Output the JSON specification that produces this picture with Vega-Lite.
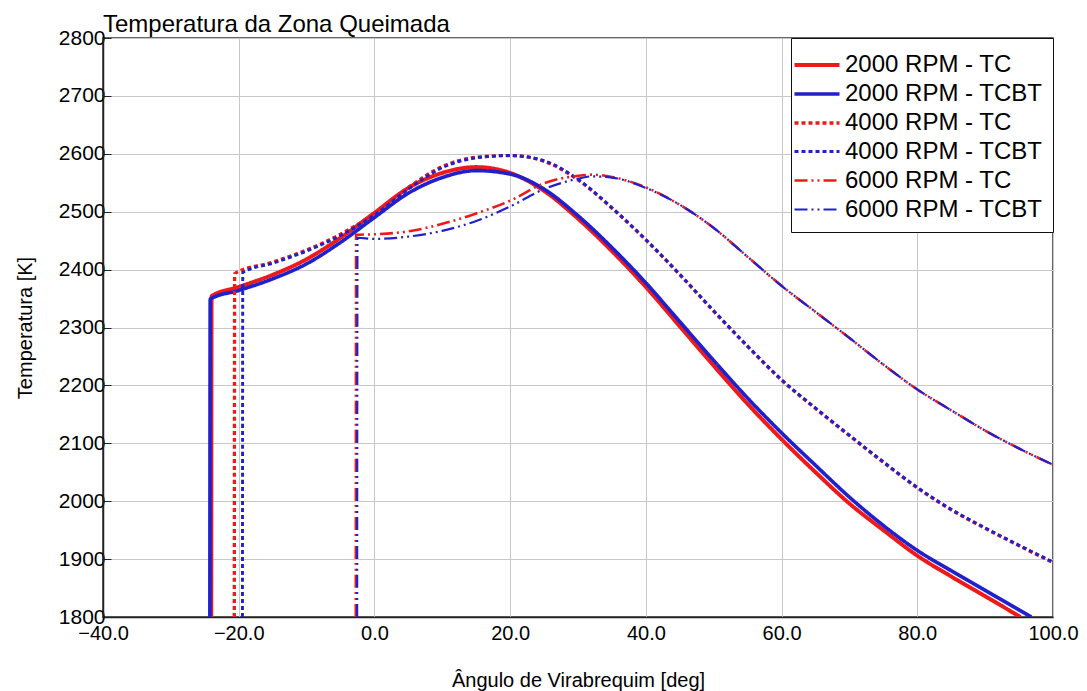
{
  "$schema": "https://vega.github.io/schema/vega-lite/v6.json",
  "width": 950,
  "height": 579,
  "autosize": {"type": "none"},
  "padding": {"left": 103, "top": 38, "right": 34, "bottom": 74},
  "background": "white",
  "title": {"text": "Temperatura da Zona Queimada", "anchor": "start", "frame": "group", "fontSize": 24, "fontWeight": "normal", "font": "Liberation Sans", "color": "black", "offset": -29, "baseline": "alphabetic"},
  "config": {
    "view": {"stroke": "#333333", "strokeWidth": 1.5},
    "font": "Liberation Sans",
    "axis": {"gridColor": "#c8c8c8", "gridWidth": 1, "domainColor": "#222222", "domainWidth": 1.5, "labelColor": "black", "titleColor": "black", "labelFont": "Liberation Sans", "titleFont": "Liberation Sans", "titleFontWeight": "normal", "labelFontSize": 20, "titleFontSize": 20}
  },
  "data": {"values": [
    {"s":"2000 RPM - TC","i":0,"x":-24.05,"T":1800},{"s":"2000 RPM - TC","i":1,"x":-24,"T":2354},{"s":"2000 RPM - TC","i":2,"x":-20,"T":2370},{"s":"2000 RPM - TC","i":3,"x":-15,"T":2391},{"s":"2000 RPM - TC","i":4,"x":-10,"T":2418},{"s":"2000 RPM - TC","i":5,"x":-5,"T":2455},{"s":"2000 RPM - TC","i":6,"x":0,"T":2498},{"s":"2000 RPM - TC","i":7,"x":5,"T":2541},{"s":"2000 RPM - TC","i":8,"x":10,"T":2567},{"s":"2000 RPM - TC","i":9,"x":15,"T":2577},{"s":"2000 RPM - TC","i":10,"x":20,"T":2567},{"s":"2000 RPM - TC","i":11,"x":25,"T":2536},{"s":"2000 RPM - TC","i":12,"x":30,"T":2488},{"s":"2000 RPM - TC","i":13,"x":35,"T":2432},{"s":"2000 RPM - TC","i":14,"x":40,"T":2370},{"s":"2000 RPM - TC","i":15,"x":45,"T":2302},{"s":"2000 RPM - TC","i":16,"x":50,"T":2234},{"s":"2000 RPM - TC","i":17,"x":55,"T":2168},{"s":"2000 RPM - TC","i":18,"x":60,"T":2107},{"s":"2000 RPM - TC","i":19,"x":65,"T":2050},{"s":"2000 RPM - TC","i":20,"x":70,"T":1996},{"s":"2000 RPM - TC","i":21,"x":75,"T":1950},{"s":"2000 RPM - TC","i":22,"x":80,"T":1906},{"s":"2000 RPM - TC","i":23,"x":85,"T":1870},{"s":"2000 RPM - TC","i":24,"x":90,"T":1836},{"s":"2000 RPM - TC","i":25,"x":95.2,"T":1800},
    {"s":"2000 RPM - TCBT","i":0,"x":-24.25,"T":1800},{"s":"2000 RPM - TCBT","i":1,"x":-24.2,"T":2349},{"s":"2000 RPM - TCBT","i":2,"x":-20,"T":2364},{"s":"2000 RPM - TCBT","i":3,"x":-15,"T":2384},{"s":"2000 RPM - TCBT","i":4,"x":-10,"T":2410},{"s":"2000 RPM - TCBT","i":5,"x":-5,"T":2447},{"s":"2000 RPM - TCBT","i":6,"x":0,"T":2490},{"s":"2000 RPM - TCBT","i":7,"x":5,"T":2532},{"s":"2000 RPM - TCBT","i":8,"x":10,"T":2559},{"s":"2000 RPM - TCBT","i":9,"x":15,"T":2571},{"s":"2000 RPM - TCBT","i":10,"x":20,"T":2565},{"s":"2000 RPM - TCBT","i":11,"x":25,"T":2539},{"s":"2000 RPM - TCBT","i":12,"x":30,"T":2493},{"s":"2000 RPM - TCBT","i":13,"x":35,"T":2438},{"s":"2000 RPM - TCBT","i":14,"x":40,"T":2377},{"s":"2000 RPM - TCBT","i":15,"x":45,"T":2310},{"s":"2000 RPM - TCBT","i":16,"x":50,"T":2243},{"s":"2000 RPM - TCBT","i":17,"x":55,"T":2178},{"s":"2000 RPM - TCBT","i":18,"x":60,"T":2118},{"s":"2000 RPM - TCBT","i":19,"x":65,"T":2062},{"s":"2000 RPM - TCBT","i":20,"x":70,"T":2007},{"s":"2000 RPM - TCBT","i":21,"x":75,"T":1958},{"s":"2000 RPM - TCBT","i":22,"x":80,"T":1915},{"s":"2000 RPM - TCBT","i":23,"x":85,"T":1880},{"s":"2000 RPM - TCBT","i":24,"x":90,"T":1846},{"s":"2000 RPM - TCBT","i":25,"x":96.8,"T":1800},
    {"s":"4000 RPM - TC","i":0,"x":-20.65,"T":1800},{"s":"4000 RPM - TC","i":1,"x":-20.6,"T":2393},{"s":"4000 RPM - TC","i":2,"x":-15,"T":2413},{"s":"4000 RPM - TC","i":3,"x":-10,"T":2434},{"s":"4000 RPM - TC","i":4,"x":-5,"T":2461},{"s":"4000 RPM - TC","i":5,"x":0,"T":2497},{"s":"4000 RPM - TC","i":6,"x":5,"T":2542},{"s":"4000 RPM - TC","i":7,"x":10,"T":2578},{"s":"4000 RPM - TC","i":8,"x":15,"T":2594},{"s":"4000 RPM - TC","i":9,"x":20,"T":2597},{"s":"4000 RPM - TC","i":10,"x":25,"T":2587},{"s":"4000 RPM - TC","i":11,"x":30,"T":2555},{"s":"4000 RPM - TC","i":12,"x":35,"T":2506},{"s":"4000 RPM - TC","i":13,"x":40,"T":2451},{"s":"4000 RPM - TC","i":14,"x":45,"T":2391},{"s":"4000 RPM - TC","i":15,"x":50,"T":2328},{"s":"4000 RPM - TC","i":16,"x":55,"T":2267},{"s":"4000 RPM - TC","i":17,"x":60,"T":2209},{"s":"4000 RPM - TC","i":18,"x":65,"T":2160},{"s":"4000 RPM - TC","i":19,"x":70,"T":2113},{"s":"4000 RPM - TC","i":20,"x":75,"T":2067},{"s":"4000 RPM - TC","i":21,"x":80,"T":2023},{"s":"4000 RPM - TC","i":22,"x":85,"T":1985},{"s":"4000 RPM - TC","i":23,"x":90,"T":1953},{"s":"4000 RPM - TC","i":24,"x":95,"T":1923},{"s":"4000 RPM - TC","i":25,"x":100,"T":1894},
    {"s":"4000 RPM - TCBT","i":0,"x":-19.45,"T":1800},{"s":"4000 RPM - TCBT","i":1,"x":-19.4,"T":2395},{"s":"4000 RPM - TCBT","i":2,"x":-15,"T":2411},{"s":"4000 RPM - TCBT","i":3,"x":-10,"T":2432},{"s":"4000 RPM - TCBT","i":4,"x":-5,"T":2459},{"s":"4000 RPM - TCBT","i":5,"x":0,"T":2494},{"s":"4000 RPM - TCBT","i":6,"x":5,"T":2539},{"s":"4000 RPM - TCBT","i":7,"x":10,"T":2576},{"s":"4000 RPM - TCBT","i":8,"x":15,"T":2593},{"s":"4000 RPM - TCBT","i":9,"x":20,"T":2597},{"s":"4000 RPM - TCBT","i":10,"x":25,"T":2588},{"s":"4000 RPM - TCBT","i":11,"x":30,"T":2556},{"s":"4000 RPM - TCBT","i":12,"x":35,"T":2507},{"s":"4000 RPM - TCBT","i":13,"x":40,"T":2452},{"s":"4000 RPM - TCBT","i":14,"x":45,"T":2392},{"s":"4000 RPM - TCBT","i":15,"x":50,"T":2329},{"s":"4000 RPM - TCBT","i":16,"x":55,"T":2268},{"s":"4000 RPM - TCBT","i":17,"x":60,"T":2210},{"s":"4000 RPM - TCBT","i":18,"x":65,"T":2161},{"s":"4000 RPM - TCBT","i":19,"x":70,"T":2114},{"s":"4000 RPM - TCBT","i":20,"x":75,"T":2068},{"s":"4000 RPM - TCBT","i":21,"x":80,"T":2024},{"s":"4000 RPM - TCBT","i":22,"x":85,"T":1986},{"s":"4000 RPM - TCBT","i":23,"x":90,"T":1954},{"s":"4000 RPM - TCBT","i":24,"x":95,"T":1924},{"s":"4000 RPM - TCBT","i":25,"x":100,"T":1895},
    {"s":"6000 RPM - TC","i":0,"x":-2.75,"T":1800},{"s":"6000 RPM - TC","i":1,"x":-2.7,"T":2460},{"s":"6000 RPM - TC","i":2,"x":0,"T":2461},{"s":"6000 RPM - TC","i":3,"x":5,"T":2466},{"s":"6000 RPM - TC","i":4,"x":10,"T":2479},{"s":"6000 RPM - TC","i":5,"x":15,"T":2497},{"s":"6000 RPM - TC","i":6,"x":20,"T":2519},{"s":"6000 RPM - TC","i":7,"x":25,"T":2549},{"s":"6000 RPM - TC","i":8,"x":30,"T":2562},{"s":"6000 RPM - TC","i":9,"x":32,"T":2564},{"s":"6000 RPM - TC","i":10,"x":35,"T":2560},{"s":"6000 RPM - TC","i":11,"x":40,"T":2542},{"s":"6000 RPM - TC","i":12,"x":45,"T":2512},{"s":"6000 RPM - TC","i":13,"x":50,"T":2472},{"s":"6000 RPM - TC","i":14,"x":55,"T":2422},{"s":"6000 RPM - TC","i":15,"x":60,"T":2372},{"s":"6000 RPM - TC","i":16,"x":65,"T":2327},{"s":"6000 RPM - TC","i":17,"x":70,"T":2282},{"s":"6000 RPM - TC","i":18,"x":75,"T":2236},{"s":"6000 RPM - TC","i":19,"x":80,"T":2193},{"s":"6000 RPM - TC","i":20,"x":85,"T":2157},{"s":"6000 RPM - TC","i":21,"x":90,"T":2122},{"s":"6000 RPM - TC","i":22,"x":95,"T":2091},{"s":"6000 RPM - TC","i":23,"x":100,"T":2063},
    {"s":"6000 RPM - TCBT","i":0,"x":-2.55,"T":1800},{"s":"6000 RPM - TCBT","i":1,"x":-2.5,"T":2455},{"s":"6000 RPM - TCBT","i":2,"x":0,"T":2453},{"s":"6000 RPM - TCBT","i":3,"x":5,"T":2457},{"s":"6000 RPM - TCBT","i":4,"x":10,"T":2467},{"s":"6000 RPM - TCBT","i":5,"x":15,"T":2484},{"s":"6000 RPM - TCBT","i":6,"x":20,"T":2509},{"s":"6000 RPM - TCBT","i":7,"x":25,"T":2539},{"s":"6000 RPM - TCBT","i":8,"x":30,"T":2557},{"s":"6000 RPM - TCBT","i":9,"x":32,"T":2561},{"s":"6000 RPM - TCBT","i":10,"x":35,"T":2559},{"s":"6000 RPM - TCBT","i":11,"x":40,"T":2541},{"s":"6000 RPM - TCBT","i":12,"x":45,"T":2512},{"s":"6000 RPM - TCBT","i":13,"x":50,"T":2472},{"s":"6000 RPM - TCBT","i":14,"x":55,"T":2422},{"s":"6000 RPM - TCBT","i":15,"x":60,"T":2372},{"s":"6000 RPM - TCBT","i":16,"x":65,"T":2327},{"s":"6000 RPM - TCBT","i":17,"x":70,"T":2282},{"s":"6000 RPM - TCBT","i":18,"x":75,"T":2236},{"s":"6000 RPM - TCBT","i":19,"x":80,"T":2193},{"s":"6000 RPM - TCBT","i":20,"x":85,"T":2157},{"s":"6000 RPM - TCBT","i":21,"x":90,"T":2122},{"s":"6000 RPM - TCBT","i":22,"x":95,"T":2091},{"s":"6000 RPM - TCBT","i":23,"x":100,"T":2063}
  ]},
  "mark": {"type": "line", "clip": true, "strokeCap": "butt", "interpolate": "monotone"},
  "encoding": {
    "x": {"field": "x", "type": "quantitative", "scale": {"domain": [-40, 100], "nice": false, "zero": false},
      "axis": {"title": "Ângulo de Virabrequim [deg]", "values": [-40, -20, 0, 20, 40, 60, 80, 100], "format": ".1f", "ticks": false, "labelPadding": 6, "titlePadding": 27, "labelFlush": false}},
    "y": {"field": "T", "type": "quantitative", "scale": {"domain": [1800, 2800], "nice": false, "zero": false},
      "axis": {"title": "Temperatura [K]", "values": [1800, 1900, 2000, 2100, 2200, 2300, 2400, 2500, 2600, 2700, 2800], "format": "d", "tickSize": -8, "tickColor": "#222222", "labelPadding": 6, "labelFontSize": 21, "titlePadding": 23, "labelFlush": false}},
    "order": {"field": "i", "type": "quantitative"},
    "color": {"field": "s", "type": "nominal",
      "scale": {"domain": ["2000 RPM - TC", "2000 RPM - TCBT", "4000 RPM - TC", "4000 RPM - TCBT", "6000 RPM - TC", "6000 RPM - TCBT"],
        "range": ["#ee1a1a", "#2020cc", "#ee1a1a", "#2020cc", "#ee1a1a", "#2020cc"]},
      "legend": {"title": null, "orient": "top-right", "offset": 0, "strokeColor": "#111111", "fillColor": "white", "padding": 10, "labelFontSize": 24, "labelFont": "Liberation Sans", "labelColor": "black", "labelOffset": 11, "labelLimit": 400, "symbolType": "M-1.5,0L1.5,0", "symbolSize": 900, "symbolOffset": -1, "rowPadding": -3}},
    "strokeDash": {"field": "s", "type": "nominal",
      "scale": {"domain": ["2000 RPM - TC", "2000 RPM - TCBT", "4000 RPM - TC", "4000 RPM - TCBT", "6000 RPM - TC", "6000 RPM - TCBT"],
        "range": [[1, 0], [1, 0], [4, 3], [4, 3], [13, 4, 2, 4, 2, 4], [13, 4, 2, 4, 2, 4]]}},
    "strokeWidth": {"field": "s", "type": "nominal",
      "scale": {"domain": ["2000 RPM - TC", "2000 RPM - TCBT", "4000 RPM - TC", "4000 RPM - TCBT", "6000 RPM - TC", "6000 RPM - TCBT"],
        "range": [4, 2.2, 3, 3, 2.5, 2.5]}}
  }
}
